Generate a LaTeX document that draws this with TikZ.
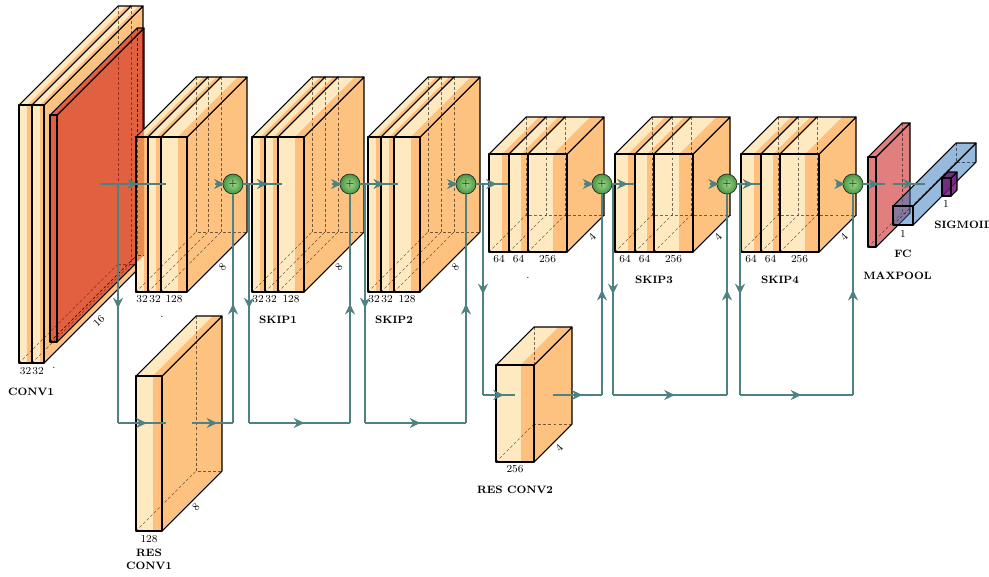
\documentclass[tikz,border=0pt]{standalone}
\usepackage{xcolor}
\usepackage{tikz}
\usetikzlibrary{arrows.meta}

\definecolor{convfront}{RGB}{255,233,192}
\definecolor{convband}{RGB}{255,192,125}
\definecolor{convside}{RGB}{253,194,128}
\definecolor{poolred}{RGB}{196,0,0}
\definecolor{poolshine}{RGB}{222,78,5}
\definecolor{fcblue}{RGB}{45,115,185}
\definecolor{sigpurple}{RGB}{110,20,115}
\definecolor{edgeteal}{RGB}{78,130,130}
\definecolor{sumlight}{RGB}{160,215,140}
\definecolor{sumdark}{RGB}{70,150,65}

\tikzset{
  boxedge/.style={draw=black, line width=0.8pt, line join=round},
  hiddenedge/.style={draw=black, dash pattern=on 2.2pt off 1.6pt, line width=0.4pt, draw opacity=0.55},
  poolbox/.style={fill=poolred, fill opacity=0.5},
  fcbox/.style={fill=fcblue, fill opacity=0.5},
  sigbox/.style={fill=sigpurple, fill opacity=0.85},
  conn/.style={draw=edgeteal, line width=1.3pt, every node/.style={sloped, allow upside down, inner sep=0pt}},
  sumball/.style={circle, draw=black!85, line width=0.5pt, inner color=sumlight, outer color=sumdark, minimum size=15pt, inner sep=0pt, font=\footnotesize},
  numlabel/.style={font=\footnotesize, inner sep=0pt},
  capt/.style={font=\footnotesize\bfseries, inner sep=0pt, align=center}
}

% layer with a relu band: x0, x1, top, bottom, depth
\newcommand{\bandbox}[5]{%
  \pgfmathsetmacro{\bx}{#1+0.65*(#2-#1)}%
  \filldraw[boxedge, fill=convside] (#2,#3) -- ++(#5,-#5) -- ({#2+#5},{#4-#5}) -- (#2,#4) -- cycle;
  \fill[convfront] (#1,#3) -- (#2,#3) -- ++(#5,-#5) -- ({#1+#5},{#3-#5}) -- cycle;
  \fill[convband] (\bx,#3) -- (#2,#3) -- ++(#5,-#5) -- ({\bx+#5},{#3-#5}) -- cycle;
  \draw[boxedge] (#1,#3) -- (#2,#3) -- ++(#5,-#5) -- ({#1+#5},{#3-#5}) -- cycle;
  \fill[convfront] (#1,#3) rectangle (#2,#4);
  \fill[convband] (\bx,#3) rectangle (#2,#4);
  \draw[boxedge] (#1,#3) rectangle (#2,#4);
}
% plain box: x0, x1, top, bottom, depth, fill style
\newcommand{\flatbox}[6]{%
  \filldraw[boxedge, #6] (#2,#3) -- ++(#5,-#5) -- ({#2+#5},{#4-#5}) -- (#2,#4) -- cycle;
  \filldraw[boxedge, #6] (#1,#3) -- (#2,#3) -- ++(#5,-#5) -- ({#1+#5},{#3-#5}) -- cycle;
  \filldraw[boxedge, #6] (#1,#3) rectangle (#2,#4);
}
% hidden back edges
\newcommand{\hiddenlines}[5]{%
  \draw[hiddenedge] ({#1+#5},{#3-#5}) -- ({#1+#5},{#4-#5}) -- ({#2+#5},{#4-#5});
  \draw[hiddenedge] (#1,#4) -- ++(#5,-#5);
}
\newcommand{\midarrow}{\tikz \draw[-{Stealth[length=8pt,width=7.5pt,inset=2.6pt]}, draw=edgeteal, line width=1.3pt] (-7pt,0) -- (0,0);}

\begin{document}
\begin{tikzpicture}[x=0.75pt, y=-0.75pt]
\useasboundingbox (0,0) rectangle (989,576);

% conv1
\bandbox{19}{32}{105}{363}{99}
\bandbox{32}{44}{105}{363}{99}
\hiddenlines{19}{32}{105}{363}{99}
\hiddenlines{32}{44}{105}{363}{99}
\flatbox{50}{57}{115}{342}{87}{poolbox}
\hiddenlines{50}{57}{115}{342}{87}

% first block
\bandbox{136}{148}{137}{292}{60}
\bandbox{148}{161}{137}{292}{60}
\bandbox{161}{187}{137}{292}{60}
% red pool seen through the first layer
\begin{scope}
\clip (57,115) -- (144,28) -- (144,255) -- (57,342) -- cycle;
\clip (136,292) -- (136,137) -- (196,77) -- (208,77) -- (148,137) -- (148,292) -- cycle;
\fill[poolshine, fill opacity=0.6] (130,70) rectangle (150,300);
\end{scope}
\draw[boxedge] (136,137) rectangle (148,292);
\hiddenlines{50}{57}{115}{342}{87}
\hiddenlines{136}{148}{137}{292}{60}
\hiddenlines{148}{161}{137}{292}{60}
\hiddenlines{161}{187}{137}{292}{60}

% res conv1
\bandbox{136}{162}{376}{531}{60}
\hiddenlines{136}{162}{376}{531}{60}

% skip1
\bandbox{252}{265}{137}{292}{60}
\bandbox{265}{278}{137}{292}{60}
\bandbox{278}{304}{137}{292}{60}
\hiddenlines{252}{265}{137}{292}{60}
\hiddenlines{265}{278}{137}{292}{60}
\hiddenlines{278}{304}{137}{292}{60}

% skip2
\bandbox{368}{381}{137}{292}{60}
\bandbox{381}{394}{137}{292}{60}
\bandbox{394}{420}{137}{292}{60}
\hiddenlines{368}{381}{137}{292}{60}
\hiddenlines{381}{394}{137}{292}{60}
\hiddenlines{394}{420}{137}{292}{60}

% second block
\bandbox{489}{509}{154}{252}{37}
\bandbox{509}{528}{154}{252}{37}
\bandbox{528}{567}{154}{252}{37}
\hiddenlines{489}{509}{154}{252}{37}
\hiddenlines{509}{528}{154}{252}{37}
\hiddenlines{528}{567}{154}{252}{37}

% res conv2
\bandbox{496}{534}{365}{462}{38}
\hiddenlines{496}{534}{365}{462}{38}

% skip3
\bandbox{615}{635}{154}{252}{37}
\bandbox{635}{654}{154}{252}{37}
\bandbox{654}{693}{154}{252}{37}
\hiddenlines{615}{635}{154}{252}{37}
\hiddenlines{635}{654}{154}{252}{37}
\hiddenlines{654}{693}{154}{252}{37}

% skip4
\bandbox{741}{761}{154}{252}{37}
\bandbox{761}{780}{154}{252}{37}
\bandbox{780}{819}{154}{252}{37}
\hiddenlines{741}{761}{154}{252}{37}
\hiddenlines{761}{780}{154}{252}{37}
\hiddenlines{780}{819}{154}{252}{37}

% maxpool, fc, sigmoid
\flatbox{868}{876}{157}{247}{34}{poolbox}
\hiddenlines{868}{876}{157}{247}{34}
\flatbox{893}{913}{206}{225}{63}{fcbox}
\hiddenlines{893}{913}{206}{225}{63}
\flatbox{942}{951}{178}{196}{6}{sigbox}

% labels
\node[numlabel] (c1a) at (25.5,371) {32};
\node[numlabel] (c1b) at (38,371) {32};
\node[numlabel] (p1dot) at (54,368) {.};
\node[numlabel, rotate=45] (c1z) at (99,321) {16};
\node[capt] (c1cap) at (31,392) {CONV1};

\node[numlabel] (b2a) at (142,299) {32};
\node[numlabel] (b2b) at (155,299) {32};
\node[numlabel] (b2c) at (174,299) {128};
\node[numlabel, rotate=45] (b2z) at (222.5,267) {8};
\node[numlabel] (b2dot) at (162,317) {.};

\node[numlabel] (s1a) at (258,299) {32};
\node[numlabel] (s1b) at (271,299) {32};
\node[numlabel] (s1c) at (291,299) {128};
\node[numlabel, rotate=45] (s1z) at (339,267) {8};
\node[capt] (s1cap) at (278,320) {SKIP1};

\node[numlabel] (s2a) at (374,299) {32};
\node[numlabel] (s2b) at (387,299) {32};
\node[numlabel] (s2c) at (407,299) {128};
\node[numlabel, rotate=45] (s2z) at (455.5,267) {8};
\node[capt] (s2cap) at (394,320) {SKIP2};

\node[numlabel] (rc1a) at (149,539) {128};
\node[numlabel, rotate=45] (rc1z) at (196,507) {8};
\node[capt] (rc1cap) at (149,559.5) {RES\\CONV1};

\node[numlabel] (b3a) at (499,259) {64};
\node[numlabel] (b3b) at (518.5,259) {64};
\node[numlabel] (b3c) at (547.5,259) {256};
\node[numlabel, rotate=45] (b3z) at (592,237) {4};
\node[numlabel] (b3dot) at (528,278) {.};

\node[numlabel] (rc2a) at (515,469) {256};
\node[numlabel, rotate=45] (rc2z) at (559,448) {4};
\node[capt] (rc2cap) at (515,490) {RES CONV2};

\node[numlabel] (s3a) at (625,259) {64};
\node[numlabel] (s3b) at (644.5,259) {64};
\node[numlabel] (s3c) at (673.5,259) {256};
\node[numlabel, rotate=45] (s3z) at (718,237) {4};
\node[capt] (s3cap) at (654,280) {SKIP3};

\node[numlabel] (s4a) at (751,259) {64};
\node[numlabel] (s4b) at (770.5,259) {64};
\node[numlabel] (s4c) at (799.5,259) {256};
\node[numlabel, rotate=45] (s4z) at (844,237) {4};
\node[capt] (s4cap) at (780,280) {SKIP4};

\node[numlabel] (fca) at (903,234) {1};
\node[capt] (fccap) at (903,254) {FC};
\node[capt] (mpcap) at (897.5,276) {MAXPOOL};
\node[numlabel] (siga) at (946,204) {1};
\node[capt, anchor=west] (sigcap) at (934,225) {SIGMOID};

% sums
\node[sumball] (sum1) at (233,184) {$+$};
\node[sumball] (sum2) at (350,184) {$+$};
\node[sumball] (sum3) at (466,184) {$+$};
\node[sumball] (sum4) at (602,184) {$+$};
\node[sumball] (sum5) at (727,184) {$+$};
\node[sumball] (sum6) at (853,184) {$+$};

% anchors
\coordinate (pool1-east) at (100,184);
\coordinate (b2-west) at (166,184);
\coordinate (b2-east) at (217,184);
\coordinate (rc1-west) at (166,423);
\coordinate (rc1-east) at (192,423);
\coordinate (s1-west) at (282,184);
\coordinate (s1-east) at (334,184);
\coordinate (s2-west) at (398,184);
\coordinate (s2-east) at (450,184);
\coordinate (b3-west) at (507.5,184);
\coordinate (b3-east) at (585.5,184);
\coordinate (rc2-west) at (515,395);
\coordinate (rc2-east) at (553,395);
\coordinate (s3-west) at (633.5,184);
\coordinate (s3-east) at (711.5,184);
\coordinate (s4-west) at (759.5,184);
\coordinate (s4-east) at (837.5,184);
\coordinate (mp-west) at (885,184);
\coordinate (mp-east) at (893,184);
\coordinate (fc-west) at (924.5,184);

\coordinate (d1) at (118,184);
\coordinate (d1b) at (118,423);
\coordinate (u1) at (sum1 |- rc1-east);
\coordinate (k1) at (249,184);
\coordinate (k1b) at (249,423);
\coordinate (k1c) at (sum2 |- k1b);
\coordinate (k2) at (365,184);
\coordinate (k2b) at (365,423);
\coordinate (k2c) at (sum3 |- k2b);
\coordinate (d2) at (483,184);
\coordinate (d2b) at (483,395);
\coordinate (u2) at (sum4 |- rc2-east);
\coordinate (k3) at (613,184);
\coordinate (k3b) at (613,395);
\coordinate (k3c) at (sum5 |- k3b);
\coordinate (k4) at (740,184);
\coordinate (k4b) at (740,395);
\coordinate (k4c) at (sum6 |- k4b);

% connections
\draw[conn] (pool1-east) -- node{\midarrow} (b2-west);
\draw[conn] (d1) -- node{\midarrow} (d1b);
\draw[conn] (d1b) -- node{\midarrow} (rc1-west);
\draw[conn] (rc1-east) -- node{\midarrow} (u1);
\draw[conn] (u1) -- node{\midarrow} (sum1.south);
\draw[conn] (b2-east) -- node{\midarrow} (sum1.west);

\draw[conn] (sum1.east) -- node{\midarrow} (s1-west);
\draw[conn] (k1) -- node{\midarrow} (k1b);
\draw[conn] (k1b) -- node{\midarrow} (k1c);
\draw[conn] (k1c) -- node{\midarrow} (sum2.south);
\draw[conn] (s1-east) -- node{\midarrow} (sum2.west);

\draw[conn] (sum2.east) -- node{\midarrow} (s2-west);
\draw[conn] (k2) -- node{\midarrow} (k2b);
\draw[conn] (k2b) -- node{\midarrow} (k2c);
\draw[conn] (k2c) -- node{\midarrow} (sum3.south);
\draw[conn] (s2-east) -- node{\midarrow} (sum3.west);

\draw[conn] (sum3.east) -- node{\midarrow} (b3-west);
\draw[conn] (d2) -- node{\midarrow} (d2b);
\draw[conn] (d2b) -- node{\midarrow} (rc2-west);
\draw[conn] (rc2-east) -- node{\midarrow} (u2);
\draw[conn] (u2) -- node{\midarrow} (sum4.south);
\draw[conn] (b3-east) -- node{\midarrow} (sum4.west);

\draw[conn] (sum4.east) -- node{\midarrow} (s3-west);
\draw[conn] (k3) -- node{\midarrow} (k3b);
\draw[conn] (k3b) -- node{\midarrow} (k3c);
\draw[conn] (k3c) -- node{\midarrow} (sum5.south);
\draw[conn] (s3-east) -- node{\midarrow} (sum5.west);

\draw[conn] (sum5.east) -- node{\midarrow} (s4-west);
\draw[conn] (k4) -- node{\midarrow} (k4b);
\draw[conn] (k4b) -- node{\midarrow} (k4c);
\draw[conn] (k4c) -- node{\midarrow} (sum6.south);
\draw[conn] (s4-east) -- node{\midarrow} (sum6.west);

\draw[conn] (sum6.east) -- node{\midarrow} (mp-west);
\draw[conn] (mp-east) -- node{\midarrow} (fc-west);
\end{tikzpicture}
\end{document}
